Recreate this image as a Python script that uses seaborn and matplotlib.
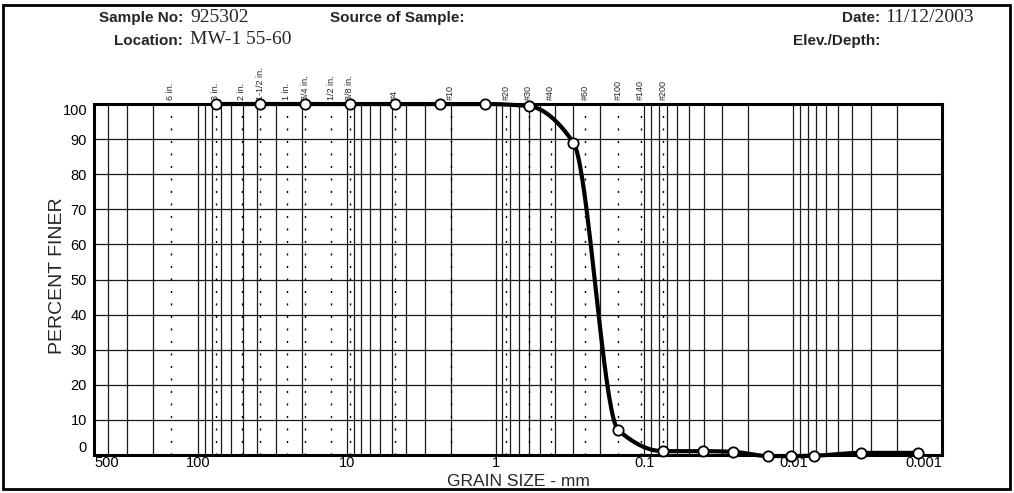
import numpy as np
import matplotlib
matplotlib.use("Agg")
import matplotlib.pyplot as plt
import seaborn as sns
from matplotlib.ticker import FixedLocator, LogLocator, NullFormatter
from matplotlib.patches import Rectangle
from matplotlib.transforms import blended_transform_factory

# sieve + hydrometer results (grain size in mm, percent finer)
grain_mm = [76.2, 38.1, 19.05, 9.525, 4.75, 2.36, 1.18, 0.6, 0.3, 0.15, 0.075,
            0.0402, 0.0253, 0.0147, 0.0103, 0.0073, 0.0035, 0.00145]
pct_finer = [100, 100, 100, 100, 100, 100, 100, 99.4, 89.0, 7.1, 1.1,
             1.1, 0.9, -0.3, -0.3, -0.2, 0.6, 0.6]

# sieve openings shown as dotted lines on top
sieve_names = ["6 in.", "3 in.", "2 in.", "1-1/2 in.", "1 in.", "3/4 in.", "1/2 in.",
               "3/8 in.", "#4", "#10", "#20", "#30", "#40", "#60", "#100", "#140", "#200"]
sieve_mm = [152.4, 76.2, 50.8, 38.1, 25.4, 19.05, 12.7, 9.525, 4.75, 2.0, 0.85,
            0.6, 0.425, 0.25, 0.15, 0.106, 0.075]

x_ticks = [500, 100, 10, 1, 0.1, 0.01, 0.001]
x_ticklabels = ["500", "100", "10", "1", "0.1", "0.01", "0.001"]
y_ticks = list(range(0, 101, 10))


def smooth_curve(x, y, n=40):
    # monotone cubic (PCHIP) through the points, in log space
    u = -np.log10(np.asarray(x, float))
    y = np.asarray(y, float)
    h = np.diff(u)
    d = np.diff(y) / h
    m = np.zeros_like(y)
    m[0], m[-1] = d[0], d[-1]
    for k in range(1, len(y) - 1):
        if d[k - 1] * d[k] > 0:
            w1 = 2 * h[k] + h[k - 1]
            w2 = h[k] + 2 * h[k - 1]
            m[k] = (w1 + w2) / (w1 / d[k - 1] + w2 / d[k])
    us, ys = [], []
    for k in range(len(h)):
        t = np.linspace(0, 1, n)
        h00 = 2 * t**3 - 3 * t**2 + 1
        h10 = t**3 - 2 * t**2 + t
        h01 = -2 * t**3 + 3 * t**2
        h11 = t**3 - t**2
        us.append(u[k] + t * h[k])
        ys.append(h00 * y[k] + h10 * h[k] * m[k] + h01 * y[k + 1] + h11 * h[k] * m[k + 1])
    return 10 ** (-np.concatenate(us)), np.concatenate(ys)


sns.set_style("white")
plt.rcParams["font.family"] = ["Liberation Sans", "DejaVu Sans"]

W, H = 1014, 493
fig = plt.figure(figsize=(W / 100, H / 100), dpi=100)
ax = fig.add_axes([94 / W, 1 - 455 / H, 848 / W, 351 / H])
ax.set_xscale("log")
ax.set_xlim(500, 0.001)
ax.set_ylim(0, 100)

# grid
ax.xaxis.set_major_locator(FixedLocator(x_ticks))
ax.xaxis.set_minor_locator(LogLocator(base=10, subs=np.arange(1, 10)))
ax.xaxis.set_minor_formatter(NullFormatter())
ax.set_yticks(y_ticks)
ax.grid(True, which="both", axis="x", color="#1a1a1a", lw=0.9)
ax.grid(True, which="major", axis="y", color="#1a1a1a", lw=0.9)
ax.set_axisbelow(True)

for s in sieve_mm:
    ax.axvline(s, color="black", lw=1, ls=(0, (1.5, 7.5)), zorder=1)

trans = blended_transform_factory(ax.transData, ax.transAxes)
for name, s in zip(sieve_names, sieve_mm):
    ax.text(s, 1 + 4 / 351, name, rotation=90, ha="center", va="bottom",
            fontsize=6.5, transform=trans)

# gradation curve
cx, cy = smooth_curve(grain_mm, pct_finer)
sns.lineplot(x=cx, y=cy, color="black", linewidth=3, sort=False, estimator=None,
             ax=ax, clip_on=False, zorder=4)
sns.scatterplot(x=grain_mm, y=pct_finer, s=55, color="white", edgecolor="black",
                linewidth=1.3, zorder=5, clip_on=False, ax=ax)

for sp in ax.spines.values():
    sp.set_linewidth(2.2)
    sp.set_color("black")

ax.tick_params(axis="both", which="major", length=3, width=1, labelsize=10.5, pad=2,
               colors="black")
ax.tick_params(axis="x", which="major", length=0, pad=1)
ax.tick_params(axis="x", which="minor", length=0)
xl = ax.set_xticklabels(x_ticklabels)
xl[0].set_ha("left")
xl[-1].set_ha("right")
yl = ax.set_yticklabels([str(v) for v in y_ticks])
yl[0].set_va("bottom")
yl[-1].set_va("top")
ax.set_xlabel("")
ax.set_ylabel("")

fig.text(58 / W, 1 - 276 / H, "PERCENT FINER", rotation=90, ha="center", va="center",
         fontsize=14)
fig.text(518 / W, 1 - 482 / H, "GRAIN SIZE - mm", ha="center", va="center", fontsize=12.5)

# header
bold = dict(fontsize=11, fontweight="bold", va="center")
serif = dict(fontsize=14, family="Liberation Serif", va="center")
fig.text(183 / W, 1 - 18 / H, "Sample No:", ha="right", **bold)
fig.text(190 / W, 1 - 17 / H, "925302", ha="left", **serif)
fig.text(183 / W, 1 - 41 / H, "Location:", ha="right", **bold)
fig.text(190 / W, 1 - 40 / H, "MW-1 55-60", ha="left", **serif)
fig.text(330 / W, 1 - 18 / H, "Source of Sample:", ha="left", **bold)
fig.text(880 / W, 1 - 18 / H, "Date:", ha="right", **bold)
fig.text(885 / W, 1 - 17 / H, "11/12/2003", ha="left", **serif)
fig.text(880 / W, 1 - 41 / H, "Elev./Depth:", ha="right", **bold)

fig.add_artist(Rectangle((3 / W, 4 / H), 1007 / W, 484 / H, transform=fig.transFigure,
                         fill=False, lw=2, ec="black"))

fig.savefig("out.png", dpi=100)
plt.close(fig)
